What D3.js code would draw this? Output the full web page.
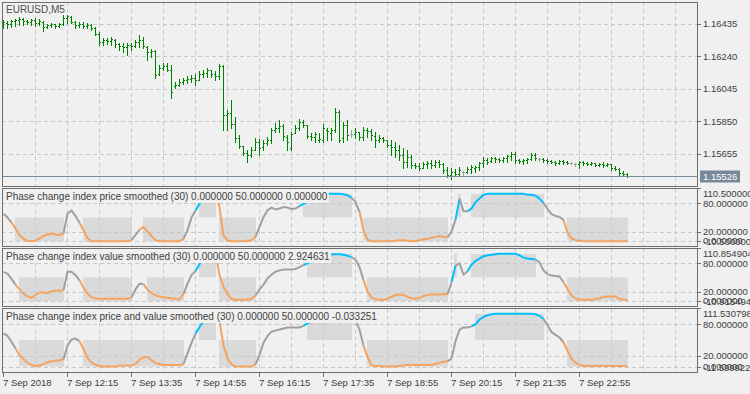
<!DOCTYPE html>
<html><head><meta charset="utf-8">
<script src="https://cdn.jsdelivr.net/npm/d3@7"></script>
<style>
html,body{margin:0;padding:0;background:#f0f0f0;overflow:hidden;}
svg{display:block;}
</style></head>
<body><svg id="c" width="750" height="394"></svg>
<script>
// ---------------- DATA ----------------
const symbolTitle = "EURUSD,M5";
const priceTicks = [1.16435, 1.16240, 1.16045, 1.15850, 1.15655];
const priceTickLabels = ["1.16435", "1.16240", "1.16045", "1.15850", "1.15655"];
const lastPrice = 1.15526;
const lastPriceLabel = "1.15526";
const timeLabels = ["7 Sep 2018","7 Sep 12:15","7 Sep 13:35","7 Sep 14:55","7 Sep 16:15","7 Sep 17:35","7 Sep 18:55","7 Sep 20:15","7 Sep 21:35","7 Sep 22:55"];
const timeLabelBars = [0,16,32,48,64,80,96,112,128,144];

const open = [
1.16441,1.16441,1.16435,1.16453,1.16459,1.16465,1.16453,1.16447,1.16459,1.16441,
1.16447,1.16417,1.16429,1.16435,1.16423,1.16435,1.16471,1.16477,1.16447,1.16429,
1.16435,1.16423,1.16429,1.16411,1.16375,1.16327,1.16339,1.16333,1.16339,1.16315,
1.16303,1.16297,1.16309,1.16303,1.16327,1.16339,1.16297,1.16267,1.16273,1.16135,
1.16171,1.16183,1.16159,1.16063,1.16069,1.16087,1.16099,1.16105,1.16111,1.16099,
1.16135,1.16141,1.16159,1.16135,1.16123,1.16183,1.15889,1.15901,1.15835,1.15751,
1.15703,1.15661,1.15649,1.15679,1.15727,1.15697,1.15721,1.15739,1.15799,1.15811,
1.15823,1.15757,1.15691,1.15781,1.15811,1.15847,1.15829,1.15763,1.15757,1.15739,
1.15739,1.15799,1.15781,1.15799,1.15907,1.15751,1.15829,1.15775,1.15775,1.15787,
1.15757,1.15799,1.15793,1.15763,1.15739,1.15751,1.15739,1.15709,1.15697,1.15679,
1.15649,1.15607,1.15637,1.15589,1.15583,1.15571,1.15595,1.15601,1.15589,1.15607,
1.15595,1.15559,1.15529,1.15547,1.15535,1.15547,1.15547,1.15565,1.15571,1.15577,
1.15601,1.15619,1.15613,1.15631,1.15625,1.15619,1.15631,1.15643,1.15655,1.15619,
1.15613,1.15619,1.15625,1.15649,1.15625,1.15625,1.15619,1.15613,1.15607,1.15601,
1.15613,1.15607,1.15601,1.15595,1.15595,1.15607,1.15601,1.15595,1.15601,1.15589,
1.15595,1.15589,1.15595,1.15571,1.15565,1.15541,1.15535];
const high = [
1.16459,1.16453,1.16459,1.16465,1.16477,1.16471,1.16459,1.16465,1.16471,1.16465,
1.16453,1.16435,1.16441,1.16435,1.16441,1.16489,1.16489,1.16483,1.16453,1.16447,
1.16447,1.16441,1.16435,1.16417,1.16387,1.16351,1.16351,1.16357,1.16345,1.16321,
1.16321,1.16321,1.16321,1.16339,1.16369,1.16357,1.16303,1.16285,1.16279,1.16189,
1.16201,1.16201,1.16189,1.16087,1.16105,1.16111,1.16123,1.16129,1.16135,1.16153,
1.16159,1.16171,1.16159,1.16153,1.16195,1.16189,1.15919,1.15979,1.15877,1.15769,
1.15703,1.15679,1.15697,1.15751,1.15745,1.15739,1.15757,1.15811,1.15841,1.15859,
1.15835,1.15769,1.15787,1.15829,1.15865,1.15859,1.15829,1.15781,1.15787,1.15781,
1.15835,1.15811,1.15811,1.15931,1.15919,1.15847,1.15859,1.15799,1.15811,1.15787,
1.15817,1.15811,1.15805,1.15787,1.15769,1.15757,1.15739,1.15739,1.15727,1.15709,
1.15691,1.15679,1.15649,1.15601,1.15601,1.15607,1.15613,1.15619,1.15619,1.15619,
1.15601,1.15577,1.15571,1.15565,1.15577,1.15553,1.15577,1.15589,1.15583,1.15607,
1.15637,1.15631,1.15637,1.15637,1.15631,1.15637,1.15649,1.15667,1.15667,1.15625,
1.15625,1.15631,1.15661,1.15661,1.15631,1.15631,1.15625,1.15619,1.15613,1.15619,
1.15619,1.15613,1.15607,1.15601,1.15613,1.15613,1.15607,1.15607,1.15601,1.15601,
1.15607,1.15601,1.15595,1.15583,1.15571,1.15553,1.15541];
const low = [
1.16411,1.16411,1.16417,1.16423,1.16429,1.16429,1.16435,1.16429,1.16423,1.16429,
1.16393,1.16411,1.16417,1.16411,1.16417,1.16429,1.16441,1.16441,1.16411,1.16417,
1.16411,1.16411,1.16399,1.16369,1.16309,1.16309,1.16315,1.16309,1.16297,1.16279,
1.16267,1.16249,1.16279,1.16297,1.16297,1.16291,1.16219,1.16237,1.16111,1.16129,
1.16159,1.16153,1.15991,1.16051,1.16063,1.16075,1.16081,1.16087,1.16069,1.16099,
1.16117,1.16117,1.16117,1.16099,1.16105,1.15799,1.15799,1.15811,1.15727,1.15691,
1.15649,1.15607,1.15637,1.15679,1.15649,1.15679,1.15709,1.15721,1.15787,1.15787,
1.15739,1.15679,1.15679,1.15781,1.15799,1.15817,1.15751,1.15739,1.15727,1.15727,
1.15727,1.15739,1.15739,1.15787,1.15727,1.15727,1.15739,1.15757,1.15751,1.15739,
1.15739,1.15757,1.15739,1.15697,1.15727,1.15727,1.15697,1.15649,1.15637,1.15619,
1.15571,1.15577,1.15571,1.15571,1.15559,1.15571,1.15571,1.15571,1.15577,1.15577,
1.15541,1.15517,1.15505,1.15529,1.15529,1.15529,1.15541,1.15541,1.15547,1.15559,
1.15577,1.15595,1.15607,1.15607,1.15607,1.15607,1.15607,1.15619,1.15601,1.15601,
1.15595,1.15601,1.15619,1.15619,1.15613,1.15607,1.15601,1.15601,1.15589,1.15595,
1.15595,1.15595,1.15595,1.15583,1.15571,1.15589,1.15589,1.15589,1.15583,1.15583,
1.15577,1.15583,1.15559,1.15559,1.15529,1.15529,1.15517];
const close = [
1.16447,1.16435,1.16453,1.16459,1.16465,1.16453,1.16447,1.16459,1.16441,1.16453,
1.16417,1.16429,1.16435,1.16423,1.16435,1.16471,1.16483,1.16447,1.16429,1.16435,
1.16423,1.16429,1.16411,1.16375,1.16327,1.16339,1.16333,1.16345,1.16315,1.16303,
1.16297,1.16309,1.16303,1.16327,1.16339,1.16303,1.16267,1.16273,1.16129,1.16171,
1.16183,1.16159,1.16027,1.16069,1.16087,1.16099,1.16105,1.16111,1.16099,1.16135,
1.16141,1.16159,1.16135,1.16123,1.16183,1.15889,1.15901,1.15835,1.15751,1.15703,
1.15661,1.15649,1.15679,1.15727,1.15691,1.15721,1.15739,1.15799,1.15811,1.15823,
1.15763,1.15727,1.15775,1.15811,1.15847,1.15829,1.15763,1.15757,1.15775,1.15745,
1.15811,1.15793,1.15799,1.15907,1.15739,1.15829,1.15769,1.15775,1.15787,1.15757,
1.15799,1.15793,1.15769,1.15739,1.15751,1.15739,1.15709,1.15697,1.15679,1.15649,
1.15607,1.15637,1.15589,1.15583,1.15571,1.15595,1.15601,1.15589,1.15607,1.15595,
1.15559,1.15529,1.15547,1.15535,1.15559,1.15547,1.15565,1.15577,1.15577,1.15601,
1.15619,1.15607,1.15631,1.15625,1.15619,1.15631,1.15643,1.15655,1.15619,1.15613,
1.15619,1.15625,1.15649,1.15631,1.15625,1.15619,1.15613,1.15607,1.15601,1.15613,
1.15607,1.15601,1.15601,1.15595,1.15607,1.15601,1.15595,1.15601,1.15589,1.15595,
1.15589,1.15595,1.15571,1.15565,1.15541,1.15535,1.15526];

// Phase change index values (three sub-windows)
const pciPrice = [
58,50,39,27,13,5,1,0,1,6, 11,14,16,14,13,16,58,65,53,39, 23,6,0,0,0,0,0,0,0,0,
0,0,2,13,24,30,20,11,2,0, 0,0,0,0,0,5,23,50,65,79, 92,100,100,100,72,12,1,0,0,0,
0,0,2,9,30,51,65,71,67,69, 72,71,68,69,74,79,83,88,92,95, 98,100,100,100,100,99,97,92,83,62,
23,3,0,0,0,0,0,0,1,2, 2,1,0,0,2,4,5,7,9,11, 9,8,20,45,90,63,63,69,82,90,
98,100,100,100,100,100,100,100,100,100, 100,98,98,96,90,81,68,57,53,51, 45,18,6,2,1,0,0,0,0,0,
0,0,0,0,0,0,0];
const pciValue = [
62,58,47,35,25,16,10,7,13,18, 18,17,21,22,22,23,62,62,55,44, 28,16,8,6,5,5,5,5,5,5,
5,5,8,25,37,36,24,17,12,10, 8,7,6,5,4,15,37,55,64,78, 95,100,100,100,55,30,15,5,3,3,
3,3,5,12,25,35,48,56,62,65, 67,67,67,68,72,76,80,84,88,92, 95,97,99,99,99,98,96,93,88,72,
45,20,8,4,3,3,5,9,13,14, 13,9,6,5,7,11,13,14,14,14, 15,14,40,75,80,56,63,77,85,90,
95,97,98,99,100,100,100,100,100,97, 92,90,89,88,82,65,57,54,53,52, 40,25,12,6,3,3,3,3,4,6,
9,10,10,10,5,3,2.92];
const pciBoth = [
63,58,47,34,22,14,7,3,1,2, 5,8,10,11,12,14,40,51,53,48, 33,16,8,3,1,0,0,0,0,2,
2,2,2,5,13,18,18,12,7,5, 3,3,3,3,3,5,25,45,62,75, 85,100,100,100,85,40,15,4,0,0,
0,0,0,4,22,45,58,66,68,70, 72,74,74,74,74,77,82,85,88,92, 95,98,100,100,100,100,100,97,88,70,
40,18,2,1,1,0,0,0,0,1, 2,3,3,3,3,3,3,3,5,7, 9,10,15,48,70,74,74,76,80,89,
94,97,99,100,100,100,100,100,100,100, 100,100,100,99,96,90,78,65,60,55, 46,30,15,7,3,1,1,1,1,1,
1,1,1,1,1,1,-0.03];

// phase state runs: n = neutral, d = down phase, u = up phase
const statePrice = [["n",3],["d",13],["n",4],["d",13],["n",2],["d",11],["n",3],["u",5],["d",10],["n",11],["u",13],["n",2],["d",22],["n",2],["u",1],["n",2],["u",19],["n",5],["d",16]];
const stateValue = [["n",4],["d",12],["n",4],["d",13],["n",3],["d",10],["n",3],["u",5],["d",10],["n",12],["u",12],["n",3],["d",21],["n",1],["u",1],["n",3],["u",17],["n",7],["d",16]];
const stateBoth  = [["n",4],["d",12],["n",4],["d",26],["n",3],["u",5],["d",10],["n",12],["u",12],["n",3],["d",21],["n",6],["u",18],["n",5],["d",16]];

const panelTitles = [
 "Phase change index price smoothed (30) 0.000000 50.000000 0.000000",
 "Phase change index value smoothed (30) 0.000000 50.000000 2.924631",
 "Phase change index price and value smoothed (30) 0.000000 50.000000 -0.033251"];
const panelMax = [110.5, 110.854904, 111.530798];
const panelMin = [-10.5, -10.915494, -11.599922];
const panelMaxLabels = ["110.500000","110.854904","111.530798"];
const panelMinLabels = ["-10.500000","-10.915494","-11.599922"];
const levelValues = [80, 20, 0];
const levelLabels = ["80.000000","20.000000","0.000000"];

// ---------------- DRAW ----------------
const FONT = '"Liberation Sans", Arial, sans-serif';
const BG = "#f0f0f0", GRID = "#c8c8c8", FRAME = "#6e6e6e", TXT = "#404040";
const COL = {n:"#a0a0a0", d:"#f4a460", u:"#00bfff"};
const svg = d3.select("#c").style("font-family", FONT);
svg.append("rect").attr("width",750).attr("height",394).attr("fill",BG);

const L = 2, R = 697;
const x = d3.scaleLinear().domain([0, 156]).range([3, 627]);
const gridX = d3.range(35, R, 32);

function expand(runs){ const a=[]; runs.forEach(([s,n])=>{ for(let k=0;k<n;k++) a.push(s); }); return a; }
function crisp(v){ return Math.round(v) + 0.5; }

function vgrid(g, top, bottom){
  g.selectAll(null).data(gridX).enter().append("line")
    .attr("x1",d=>d+0.5).attr("x2",d=>d+0.5).attr("y1",top).attr("y2",bottom)
    .attr("stroke",GRID).attr("stroke-dasharray","4,3");
}
function hgrid(g, ys){
  g.selectAll(null).data(ys).enter().append("line")
    .attr("x1",L).attr("x2",R).attr("y1",d=>crisp(d)).attr("y2",d=>crisp(d))
    .attr("stroke",GRID).attr("stroke-dasharray","4,3");
}
function rightLabel(y, text, tick){
  if (tick) svg.append("line").attr("x1",R).attr("x2",R+4).attr("y1",crisp(y)).attr("y2",crisp(y)).attr("stroke",FRAME);
  svg.append("text").attr("x",703).attr("y",y).attr("dy","0.35em").attr("font-size",9.5).attr("fill",TXT).text(text);
}

// ---- main price panel ----
const mainTop = 2, mainBottom = 186;
const yP = d3.scaleLinear().domain([1.15463, 1.16567]).range([mainBottom, mainTop]);
const gm = svg.append("g");
vgrid(gm, mainTop, mainBottom);
hgrid(gm, priceTicks.map(yP));
const bars = gm.append("g");
for (let i = 0; i < open.length; i++) {
  const cx = x(i);
  const col = open[i] === close[i] ? "#a0a0a0" : "#008000";
  const yh = Math.round(yP(high[i])), yl = Math.round(yP(low[i]));
  bars.append("rect").attr("x",cx).attr("y",yh).attr("width",1).attr("height",Math.max(1,yl-yh+1)).attr("fill",col);
  bars.append("rect").attr("x",cx-1).attr("y",Math.round(yP(open[i]))).attr("width",1).attr("height",1).attr("fill",col);
  bars.append("rect").attr("x",cx+1).attr("y",Math.round(yP(close[i]))).attr("width",1).attr("height",1).attr("fill",col);
}
const yLast = crisp(yP(lastPrice));
gm.append("line").attr("x1",L).attr("x2",R).attr("y1",yLast).attr("y2",yLast).attr("stroke","#778899");
svg.append("rect").attr("x",L+0.5).attr("y",mainTop+0.5).attr("width",R-L).attr("height",mainBottom-mainTop).attr("fill","none").attr("stroke",FRAME);
svg.append("text").attr("x",6).attr("y",13).attr("font-size",10).attr("fill","#505050").text(symbolTitle);
priceTicks.forEach((p,k)=> rightLabel(yP(p), priceTickLabels[k], true));
svg.append("rect").attr("x",700).attr("y",yLast-6).attr("width",40).attr("height",12).attr("fill","#778899");
svg.append("text").attr("x",703).attr("y",yLast).attr("dy","0.35em").attr("font-size",9.5).attr("fill","#ffffff").text(lastPriceLabel);

// ---- indicator panels ----
const panels = [
  {top:188.5, bottom:246.5, r0:246.1, r1:188.9, vals:pciPrice, runs:statePrice},
  {top:248.5, bottom:306.5, r0:306.3, r1:248.7, vals:pciValue, runs:stateValue},
  {top:308.5, bottom:372.5, r0:372.7, r1:307.6, vals:pciBoth,  runs:stateBoth}
];
panels.forEach((p, k) => {
  const y = d3.scaleLinear().domain([panelMin[k], panelMax[k]]).range([p.r0, p.r1]);
  const st = expand(p.runs);
  const clipId = "clip" + k;
  svg.append("clipPath").attr("id",clipId).append("rect")
    .attr("x",L+1).attr("y",p.top+0.5).attr("width",R-L-1).attr("height",p.bottom-p.top-1);
  const g = svg.append("g").attr("clip-path",`url(#${clipId})`);
  // phase fills
  let i = 0;
  while (i < st.length) {
    let j = i; while (j + 1 < st.length && st[j+1] === st[i]) j++;
    if (st[i] !== "n") {
      const lo = st[i] === "u" ? 50 : 0, hi = st[i] === "u" ? 100 : 50;
      let x0 = x(i), x1 = x(j) + 1;
      if (i === j) { x0 -= 1; x1 += 1; }
      g.append("rect").attr("x",x0).attr("y",y(hi)).attr("width",x1-x0).attr("height",y(lo)-y(hi)).attr("fill","#dadada");
    }
    i = j + 1;
  }
  vgrid(g, p.top, p.bottom);
  hgrid(g, levelValues.map(y));
  // colored line
  const line = d3.line().x(d=>x(d[0])+0.5).y(d=>y(d[1]));
  let cur = null, pts = [];
  const segs = [];
  for (let m = 1; m < p.vals.length; m++) {
    if (st[m] !== cur) { if (pts.length) segs.push({c:cur, pts}); pts = [[m-1, p.vals[m-1]]]; cur = st[m]; }
    pts.push([m, p.vals[m]]);
  }
  segs.push({c:cur, pts});
  segs.forEach(s => g.append("path").attr("d", line(s.pts)).attr("fill","none")
    .attr("stroke", COL[s.c]).attr("stroke-width", 2).attr("stroke-linejoin","round"));
  // title with opaque background
  const tg = svg.append("g");
  const bgr = tg.append("rect").attr("fill",BG);
  const t = tg.append("text").attr("x",6).attr("y",p.top+11.5).attr("font-size",10).attr("fill",TXT).text(panelTitles[k]);
  const bb = t.node().getBBox();
  bgr.attr("x",bb.x-1).attr("y",p.top+1).attr("width",bb.width+2).attr("height",13.5);
  // frame
  svg.append("rect").attr("x",L+0.5).attr("y",p.top).attr("width",R-L).attr("height",p.bottom-p.top).attr("fill","none").attr("stroke",FRAME);
  // right axis
  svg.append("line").attr("x1",R).attr("x2",R+4).attr("y1",p.top).attr("y2",p.top).attr("stroke",FRAME);
  rightLabel(p.top + 4.8, panelMaxLabels[k], false);
  levelValues.forEach((v, q) => rightLabel(y(v), levelLabels[q], true));
  rightLabel(p.bottom - 5, panelMinLabels[k], false);
});

// ---- time axis ----
timeLabelBars.forEach((b, k) => {
  const tx = x(b) + 0.5;
  svg.append("line").attr("x1",tx).attr("x2",tx).attr("y1",373).attr("y2",377).attr("stroke",FRAME);
  svg.append("text").attr("x",x(b)).attr("y",385.5).attr("font-size",9.5).attr("fill",TXT).text(timeLabels[k]);
});
</script>
</body></html>
